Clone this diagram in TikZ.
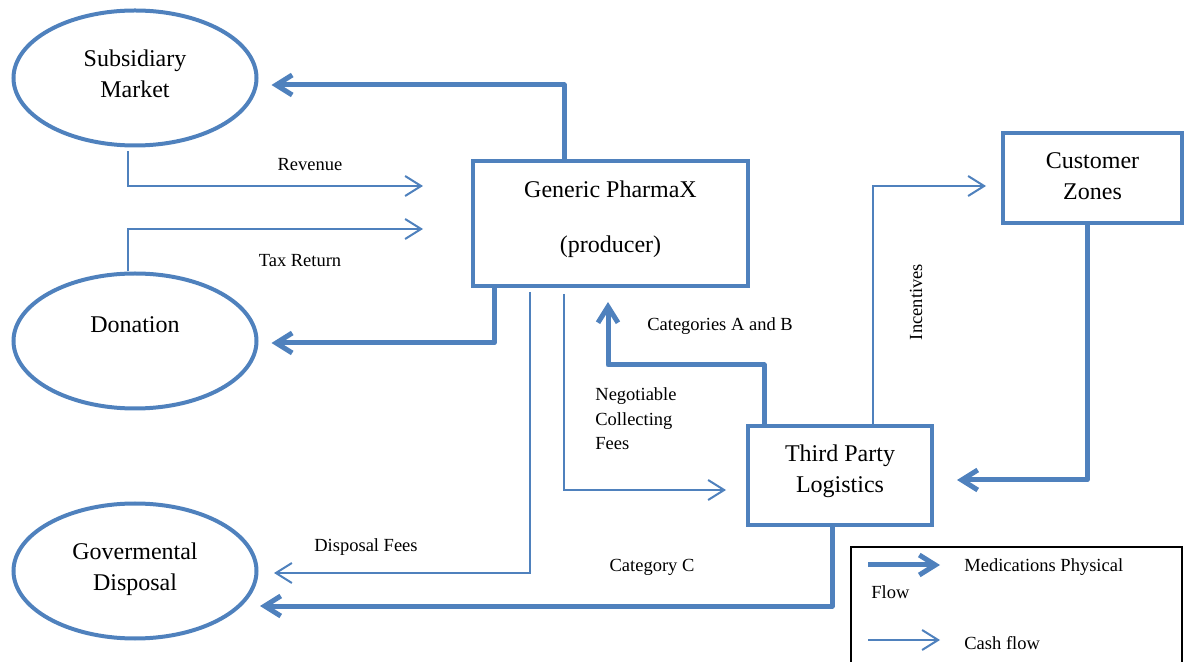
\documentclass[tikz,border=0pt]{standalone}
\usepackage{fontspec}
\setmainfont{Liberation Serif}
\usetikzlibrary{arrows.meta,shapes.geometric}
\definecolor{flowblue}{RGB}{79,129,189}
\begin{document}
\begin{tikzpicture}[x=0.5pt,y=-0.5pt,
    market/.style={ellipse,draw=flowblue,line width=2pt,minimum width=121.5pt,
      minimum height=67.5pt,align=center,text depth=4pt,font=\fontsize{12}{15.5}\selectfont},
    party/.style={rectangle,draw=flowblue,line width=2pt,align=center,text depth=7pt,
      font=\fontsize{12}{15.5}\selectfont},
    medflow/.style={draw=flowblue,line width=2.5pt,line join=round,
      -{Straight Barb[length=8pt,width=10pt]}},
    cashflow/.style={draw=flowblue,line width=1pt,
      -{Straight Barb[length=8pt,width=10pt]}},
    tag/.style={font=\fontsize{9.25}{12.25}\selectfont,inner sep=0pt}]
  \useasboundingbox (0,0) rectangle (1184,662);
  % actors
  \node[market] (subs) at (135,78) {Subsidiary\\Market};
  \node[market,text depth=16.5pt] (don) at (135,341) {Donation};
  \node[market] (gov) at (135,571) {Govermental\\Disposal};
  \node[party,minimum width=137.5pt,minimum height=62.5pt] (pharma) at (610.5,223.5)
    {Generic PharmaX\\[12pt](producer)};
  \node[party,minimum width=89.5pt,minimum height=45pt,text depth=2pt] (cust) at (1092.5,178)
    {Customer\\Zones};
  \node[party,minimum width=92pt,minimum height=49.5pt] (tpl) at (840,475.5)
    {Third Party\\Logistics};
  % medications physical flow
  \draw[medflow] ([xshift=-23.25pt]pharma.north) |- ([xshift=6.5pt,yshift=-3.5pt]subs.east);
  \draw[medflow] ([xshift=-58.25pt]pharma.south) |- ([xshift=6.5pt,yshift=-1pt]don.east);
  \draw[medflow] ([xshift=-38pt]tpl.north) -- ++(0,-59) -| ([xshift=-1.25pt,yshift=-7pt]pharma.south);
  \draw[medflow] ([xshift=-2.75pt]cust.south) |- ([xshift=11.5pt,yshift=-2.25pt]tpl.east);
  \draw[medflow] ([xshift=-4pt]tpl.south) |- ([xshift=0.75pt,yshift=-17.5pt]gov.east);
  % cash flow
  \draw[cashflow] ([xshift=-3.5pt,yshift=-2pt]subs.south) |- ([xshift=-24pt,yshift=18.75pt]pharma.west);
  \draw[cashflow] ([xshift=-3.5pt]don.north) |- ([xshift=-24pt,yshift=-2.75pt]pharma.west);
  \draw[cashflow] ([xshift=-40.25pt,yshift=-2pt]pharma.south) |- ([xshift=7.75pt,yshift=-1pt]gov.east);
  \draw[cashflow] ([xshift=-23.25pt,yshift=-3pt]pharma.south) |- ([xshift=-10pt,yshift=-7.25pt]tpl.west);
  \draw[cashflow] ([xshift=16.5pt]tpl.north) |- ([xshift=-7.5pt,yshift=-4pt]cust.west);
  % labels
  \node[tag] (revtxt) at (310,165) {Revenue};
  \node[tag] (taxtxt) at (300,261) {Tax Return};
  \node[tag] (disptxt) at (366,547) {Disposal Fees};
  \node[tag] (cattxt) at (652,567) {Category C};
  \node[tag] (abtxt) at (720,326) {Categories A and B};
  \node[tag,align=left,anchor=west] (feetxt) at (595,419) {Negotiable\\Collecting\\Fees};
  \node[tag,rotate=90] (inctxt) at (916,302) {Incentives};
  % legend
  \node[draw=black,line width=0.9pt,minimum width=165.5pt,minimum height=70pt,
    anchor=north west,inner sep=0pt] (key) at (850,546) {};
  \coordinate (medA) at (868,565);
  \coordinate (medB) at (940,565);
  \coordinate (cashA) at (868,640);
  \coordinate (cashB) at (940,640);
  \draw[medflow] (medA) -- (medB);
  \draw[cashflow] (cashA) -- (cashB);
  \node[tag,anchor=west] (medtxt) at (964,567) {Medications Physical};
  \node[tag,anchor=west] (flowtxt) at (871,592) {Flow};
  \node[tag,anchor=west] (cashtxt) at (964,643) {Cash flow};
\end{tikzpicture}
\end{document}
